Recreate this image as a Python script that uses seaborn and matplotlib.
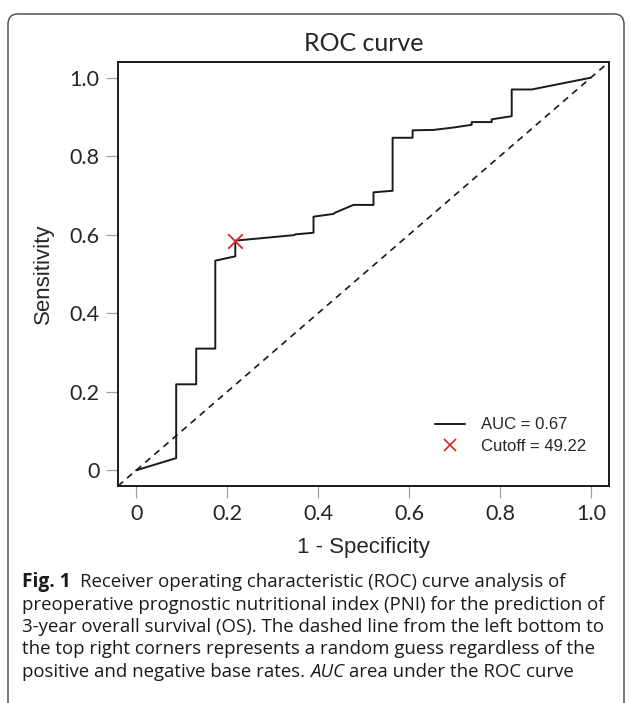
import numpy as np
import pandas as pd
import matplotlib
matplotlib.use("Agg")
import matplotlib.pyplot as plt
import seaborn as sns
from matplotlib.lines import Line2D
from matplotlib.patches import FancyBboxPatch

# ---- data ----
fpr = [0, 0.088, 0.088, 0.132, 0.132, 0.174, 0.174, 0.218, 0.218, 0.347, 0.350,
       0.390, 0.390, 0.434, 0.437, 0.478, 0.522, 0.522, 0.564, 0.564, 0.608,
       0.608, 0.654, 0.697, 0.738, 0.738, 0.782, 0.782, 0.826, 0.826, 0.870, 1.0]
tpr = [0, 0.031, 0.219, 0.219, 0.310, 0.310, 0.534, 0.545, 0.585, 0.599, 0.601,
       0.605, 0.646, 0.653, 0.656, 0.676, 0.676, 0.708, 0.712, 0.847, 0.847,
       0.866, 0.867, 0.873, 0.880, 0.887, 0.887, 0.894, 0.902, 0.970, 0.970, 1.0]
cutoff_x = [0.218]
cutoff_y = [0.583]
xticks = [0, 0.2, 0.4, 0.6, 0.8, 1.0]
xticklabels = ["0", "0.2", "0.4", "0.6", "0.8", "1.0"]
yticks = [0, 0.2, 0.4, 0.6, 0.8, 1.0]
yticklabels = ["0", "0.2", "0.4", "0.6", "0.8", "1.0"]
legend_labels = ["AUC = 0.67", "Cutoff = 49.22"]
title = "ROC curve"
xlabel = "1 - Specificity"
ylabel = "Sensitivity"
caption_bold = "Fig. 1"
caption_lines = [
    "Receiver operating characteristic (ROC) curve analysis of",
    "preoperative prognostic nutritional index (PNI) for the prediction of",
    "3-year overall survival (OS). The dashed line from the left bottom to",
    "the top right corners represents a random guess regardless of the",
]
caption_last_pre = "positive and negative base rates. "
caption_last_it = "AUC"
caption_last_post = " area under the ROC curve"

sns.set_style("white")

W, H = 630, 703
fig = plt.figure(figsize=(W / 100, H / 100), dpi=100)

# panel frame (rounded border)
frame = FancyBboxPatch((8 / W, -0.05), (624 - 8) / W, (H - 14) / H + 0.05,
                       boxstyle="round,pad=0,rounding_size=0.015",
                       transform=fig.transFigure, fill=False,
                       edgecolor="#555555", linewidth=1.1, clip_on=False)
fig.patches.append(frame)

ax_l, ax_r, ax_t, ax_b = 118, 609, 62, 486
ax = fig.add_axes([ax_l / W, (H - ax_b) / H, (ax_r - ax_l) / W, (ax_b - ax_t) / H])

df = pd.DataFrame({"fpr": fpr, "tpr": tpr})
sns.lineplot(data=df, x="fpr", y="tpr", sort=False, estimator=None,
             color="#1a1a1a", linewidth=1.4, ax=ax)
ax.axline((0, 0), slope=1, color="#1a1a1a", linestyle=(0, (4.0, 3.2)), linewidth=1.2)
sns.scatterplot(x=cutoff_x, y=cutoff_y, marker="x", color="#d62728", s=110,
                linewidth=1.3, ax=ax, zorder=5)

ax.set_xlim(-0.04, 1.04)
ax.set_ylim(-0.04, 1.04)
ax.set_xticks(xticks)
ax.set_xticklabels(xticklabels, fontsize=15.5, family="Lato")
ax.set_yticks(yticks)
ax.set_yticklabels(yticklabels, fontsize=15.5, family="Lato")
ax.tick_params(axis="both", direction="out", length=8.3, width=0.9, color="#a0a0a0",
               bottom=True, left=True)
ax.tick_params(axis="x", pad=4.5)
ax.tick_params(axis="y", pad=5.0)
for s in ax.spines.values():
    s.set_color("#1a1a1a")
    s.set_linewidth(1.4)

ax_h = ax_b - ax_t
ax_w = ax_r - ax_l
ax.set_xlabel(xlabel, fontsize=16, family="Liberation Sans")
ax.xaxis.set_label_coords(0.5, (ax_b - 548) / ax_h)
ax.xaxis.label.set_va("center")
ax.set_ylabel(ylabel, fontsize=16, family="Liberation Sans")
ax.yaxis.set_label_coords((43 - ax_l) / ax_w, 0.5)
ax.yaxis.label.set_va("center")
ax.set_title(title, fontsize=18, family="Lato", pad=8)

handles = [Line2D([0], [0], color="#1a1a1a", linewidth=1.4),
           Line2D([0], [0], marker="x", color="#d62728", linestyle="None",
                  markersize=8, markeredgewidth=1.2)]
ax.legend(handles, legend_labels, loc="lower right", frameon=False,
          prop={"family": "Liberation Sans", "size": 12},
          bbox_to_anchor=(0.985, 0.04), handlelength=1.8, handletextpad=1.0,
          labelspacing=0.4)

# caption
fig.canvas.draw()
renderer = fig.canvas.get_renderer()
cap_fs = 13.4
cap_fam = "Open Sans"
x0 = 22 / W
line_h = 22.5 / H
y0 = (H - 587) / H
tb = fig.text(x0, y0, caption_bold, fontsize=cap_fs + 0.4, family=cap_fam,
              fontweight="bold", va="baseline", color="#1a1a1a")
bb = tb.get_window_extent(renderer)
fig.text(bb.x1 / W + 9 / W, y0, caption_lines[0], fontsize=cap_fs, family=cap_fam,
         va="baseline", color="#1a1a1a")
for i, ln in enumerate(caption_lines[1:], start=1):
    fig.text(x0, y0 - i * line_h, ln, fontsize=cap_fs, family=cap_fam,
             va="baseline", color="#1a1a1a")
yl = y0 - 4 * line_h
t1 = fig.text(x0, yl, caption_last_pre, fontsize=cap_fs, family=cap_fam,
              va="baseline", color="#1a1a1a")
b1 = t1.get_window_extent(renderer)
t2 = fig.text(b1.x1 / W, yl, caption_last_it, fontsize=cap_fs, family=cap_fam,
              style="italic", va="baseline", color="#1a1a1a")
b2 = t2.get_window_extent(renderer)
fig.text(b2.x1 / W, yl, caption_last_post, fontsize=cap_fs, family=cap_fam,
         va="baseline", color="#1a1a1a")

fig.savefig("out.png", dpi=100)
